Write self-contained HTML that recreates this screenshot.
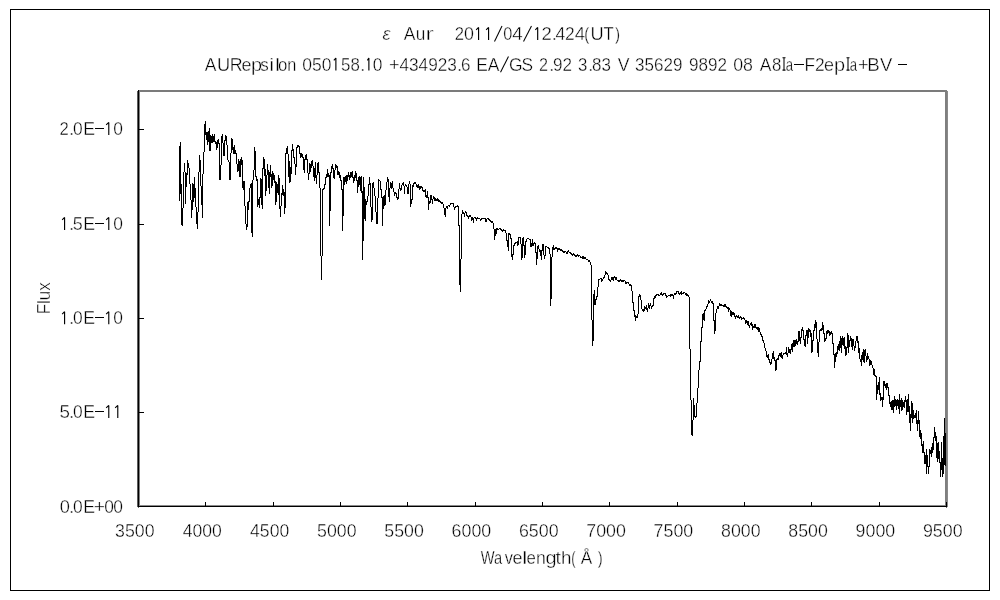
<!DOCTYPE html>
<html><head><meta charset="utf-8"><title>eps Aur spectrum</title>
<style>html,body{margin:0;padding:0;background:#fff;}body{width:1000px;height:600px;overflow:hidden;font-family:"Liberation Sans",sans-serif;}svg{display:block;}text{font-family:"Liberation Sans",sans-serif;}</style>
</head><body>
<svg width="1000" height="600" viewBox="0 0 1000 600">
<rect x="0" y="0" width="1000" height="600" fill="#fff"/>
<g shape-rendering="crispEdges">
<rect x="10.5" y="9.5" width="979" height="581" fill="none" stroke="#000" stroke-width="1"/>
<rect x="138" y="90" width="809" height="2" fill="#7b7b7b"/>
<rect x="945" y="90" width="2" height="416" fill="#7f7f7f"/>
<rect x="947" y="91" width="1" height="416" fill="#8a8a8a"/>
</g>
<path shape-rendering="crispEdges" fill="#000" d="M179 146h1V201h-1zM180 142h1V194h-1zM181 184h1V225h-1zM182 208h1V226h-1zM183 172h1V208h-1zM184 163h1V172h-1zM185 172h1V204h-1zM186 173h1V187h-1zM187 160h1V175h-1zM188 163h1V168h-1zM189 168h1V184h-1zM190 184h1V200h-1zM191 200h1V218h-1zM192 183h1V210h-1zM193 184h1V202h-1zM194 177h1V198h-1zM195 188h1V207h-1zM196 207h1V224h-1zM197 212h1V229h-1zM198 172h1V212h-1zM199 155h1V172h-1zM200 160h1V186h-1zM201 186h1V205h-1zM202 174h1V218h-1zM203 152h1V174h-1zM204 124h1V152h-1zM205 121h1V135h-1zM206 132h1V140h-1zM207 132h1V145h-1zM208 131h1V142h-1zM209 128h1V151h-1zM210 135h1V151h-1zM211 136h1V143h-1zM212 134h1V143h-1zM213 136h1V142h-1zM214 134h1V142h-1zM215 141h1V144h-1zM216 142h1V150h-1zM217 140h1V148h-1zM218 139h1V144h-1zM219 143h1V180h-1zM220 165h1V180h-1zM221 136h1V165h-1zM222 134h1V143h-1zM223 143h1V156h-1zM224 140h1V156h-1zM225 135h1V141h-1zM226 136h1V145h-1zM227 145h1V160h-1zM228 160h1V162h-1zM229 162h1V180h-1zM230 153h1V180h-1zM231 138h1V153h-1zM232 139h1V150h-1zM233 147h1V154h-1zM234 145h1V154h-1zM235 150h1V154h-1zM236 153h1V164h-1zM237 164h1V172h-1zM238 159h1V171h-1zM239 161h1V177h-1zM240 159h1V177h-1zM241 157h1V165h-1zM242 160h1V188h-1zM243 181h1V190h-1zM244 181h1V206h-1zM245 206h1V224h-1zM246 224h1V230h-1zM247 202h1V227h-1zM248 201h1V210h-1zM249 188h1V202h-1zM250 184h1V188h-1zM251 183h1V233h-1zM252 180h1V237h-1zM253 170h1V180h-1zM254 147h1V170h-1zM255 151h1V177h-1zM256 176h1V181h-1zM257 179h1V207h-1zM258 199h1V205h-1zM259 197h1V208h-1zM260 178h1V198h-1zM261 179h1V205h-1zM262 168h1V209h-1zM263 157h1V169h-1zM264 159h1V176h-1zM265 169h1V196h-1zM266 175h1V191h-1zM267 164h1V175h-1zM268 170h1V188h-1zM269 172h1V194h-1zM270 165h1V177h-1zM271 174h1V188h-1zM272 171h1V186h-1zM273 173h1V180h-1zM274 175h1V183h-1zM275 181h1V205h-1zM276 182h1V202h-1zM277 184h1V193h-1zM278 175h1V195h-1zM279 178h1V209h-1zM280 206h1V217h-1zM281 193h1V206h-1zM282 185h1V195h-1zM283 189h1V196h-1zM284 192h1V214h-1zM285 153h1V208h-1zM286 148h1V154h-1zM287 146h1V154h-1zM288 154h1V177h-1zM289 161h1V183h-1zM290 167h1V182h-1zM291 150h1V174h-1zM292 144h1V151h-1zM293 149h1V158h-1zM294 157h1V164h-1zM295 164h1V175h-1zM296 147h1V167h-1zM297 145h1V148h-1zM298 145h1V147h-1zM299 146h1V154h-1zM300 153h1V158h-1zM301 153h1V157h-1zM302 154h1V158h-1zM303 157h1V170h-1zM304 159h1V173h-1zM305 155h1V160h-1zM306 154h1V160h-1zM307 159h1V173h-1zM308 173h1V180h-1zM309 163h1V174h-1zM310 164h1V172h-1zM311 161h1V168h-1zM312 160h1V166h-1zM313 166h1V177h-1zM314 168h1V181h-1zM315 162h1V178h-1zM316 175h1V184h-1zM317 163h1V175h-1zM318 162h1V173h-1zM319 172h1V188h-1zM320 188h1V256h-1zM321 256h1V280h-1zM322 189h1V256h-1zM323 188h1V190h-1zM324 184h1V189h-1zM325 177h1V185h-1zM326 174h1V178h-1zM327 169h1V177h-1zM328 173h1V177h-1zM329 175h1V226h-1zM330 172h1V211h-1zM331 166h1V173h-1zM332 164h1V169h-1zM333 168h1V178h-1zM334 170h1V179h-1zM335 164h1V170h-1zM336 165h1V168h-1zM337 166h1V175h-1zM338 171h1V175h-1zM339 172h1V178h-1zM340 175h1V181h-1zM341 180h1V190h-1zM342 189h1V231h-1zM343 177h1V216h-1zM344 177h1V185h-1zM345 176h1V182h-1zM346 175h1V184h-1zM347 175h1V181h-1zM348 172h1V177h-1zM349 175h1V180h-1zM350 172h1V178h-1zM351 172h1V177h-1zM352 171h1V178h-1zM353 177h1V183h-1zM354 175h1V181h-1zM355 171h1V178h-1zM356 173h1V181h-1zM357 180h1V193h-1zM358 177h1V187h-1zM359 176h1V185h-1zM360 177h1V191h-1zM361 176h1V193h-1zM362 191h1V260h-1zM363 177h1V241h-1zM364 187h1V219h-1zM365 199h1V221h-1zM366 201h1V205h-1zM367 196h1V202h-1zM368 184h1V196h-1zM369 177h1V185h-1zM370 183h1V207h-1zM371 207h1V222h-1zM372 183h1V220h-1zM373 182h1V188h-1zM374 188h1V196h-1zM375 196h1V212h-1zM376 212h1V224h-1zM377 198h1V224h-1zM378 179h1V198h-1zM379 180h1V181h-1zM380 181h1V190h-1zM381 189h1V198h-1zM382 197h1V226h-1zM383 196h1V209h-1zM384 195h1V206h-1zM385 190h1V205h-1zM386 182h1V190h-1zM387 177h1V182h-1zM388 179h1V197h-1zM389 188h1V202h-1zM390 182h1V188h-1zM391 183h1V189h-1zM392 181h1V188h-1zM393 188h1V192h-1zM394 192h1V196h-1zM395 192h1V194h-1zM396 193h1V198h-1zM397 197h1V200h-1zM398 189h1V199h-1zM399 183h1V189h-1zM400 188h1V191h-1zM401 185h1V190h-1zM402 183h1V185h-1zM403 182h1V186h-1zM404 186h1V194h-1zM405 184h1V186h-1zM406 185h1V187h-1zM407 187h1V194h-1zM408 184h1V194h-1zM409 181h1V184h-1zM410 184h1V207h-1zM411 199h1V204h-1zM412 185h1V200h-1zM413 183h1V187h-1zM414 182h1V184h-1zM415 182h1V184h-1zM416 184h1V187h-1zM417 185h1V188h-1zM418 184h1V188h-1zM419 186h1V190h-1zM420 186h1V189h-1zM421 186h1V188h-1zM422 187h1V191h-1zM423 190h1V192h-1zM424 190h1V192h-1zM425 189h1V197h-1zM426 195h1V198h-1zM427 191h1V198h-1zM428 197h1V210h-1zM429 201h1V204h-1zM430 195h1V203h-1zM431 195h1V200h-1zM432 199h1V204h-1zM433 196h1V199h-1zM434 197h1V201h-1zM435 198h1V201h-1zM436 199h1V201h-1zM437 198h1V201h-1zM438 199h1V202h-1zM439 200h1V202h-1zM440 201h1V203h-1zM441 202h1V204h-1zM442 202h1V204h-1zM443 204h1V208h-1zM444 208h1V215h-1zM445 208h1V217h-1zM446 206h1V208h-1zM447 206h1V209h-1zM448 205h1V206h-1zM449 205h1V207h-1zM450 203h1V205h-1zM451 203h1V204h-1zM452 203h1V204h-1zM453 203h1V207h-1zM454 207h1V210h-1zM455 206h1V208h-1zM456 206h1V207h-1zM457 205h1V207h-1zM458 206h1V226h-1zM459 225h1V285h-1zM460 259h1V292h-1zM461 214h1V259h-1zM462 210h1V214h-1zM463 212h1V214h-1zM464 213h1V217h-1zM465 211h1V213h-1zM466 212h1V216h-1zM467 215h1V217h-1zM468 216h1V219h-1zM469 215h1V217h-1zM470 215h1V217h-1zM471 217h1V221h-1zM472 217h1V220h-1zM473 218h1V223h-1zM474 217h1V218h-1zM475 217h1V219h-1zM476 218h1V221h-1zM477 217h1V219h-1zM478 218h1V219h-1zM479 218h1V219h-1zM480 219h1V221h-1zM481 218h1V220h-1zM482 218h1V219h-1zM483 218h1V219h-1zM484 218h1V219h-1zM485 218h1V222h-1zM486 219h1V222h-1zM487 218h1V219h-1zM488 218h1V220h-1zM489 219h1V221h-1zM490 220h1V222h-1zM491 221h1V223h-1zM492 221h1V223h-1zM493 223h1V229h-1zM494 229h1V240h-1zM495 229h1V236h-1zM496 228h1V234h-1zM497 228h1V230h-1zM498 229h1V230h-1zM499 228h1V229h-1zM500 228h1V230h-1zM501 229h1V231h-1zM502 230h1V232h-1zM503 229h1V231h-1zM504 230h1V231h-1zM505 230h1V233h-1zM506 233h1V241h-1zM507 240h1V247h-1zM508 233h1V251h-1zM509 233h1V235h-1zM510 234h1V239h-1zM511 238h1V257h-1zM512 254h1V260h-1zM513 245h1V255h-1zM514 243h1V246h-1zM515 242h1V244h-1zM516 242h1V243h-1zM517 241h1V246h-1zM518 237h1V245h-1zM519 237h1V238h-1zM520 237h1V244h-1zM521 244h1V260h-1zM522 238h1V258h-1zM523 237h1V246h-1zM524 245h1V258h-1zM525 241h1V255h-1zM526 239h1V242h-1zM527 238h1V239h-1zM528 238h1V239h-1zM529 239h1V240h-1zM530 239h1V247h-1zM531 243h1V247h-1zM532 239h1V246h-1zM533 243h1V246h-1zM534 242h1V244h-1zM535 243h1V253h-1zM536 252h1V265h-1zM537 246h1V259h-1zM538 245h1V249h-1zM539 249h1V252h-1zM540 250h1V256h-1zM541 250h1V260h-1zM542 244h1V251h-1zM543 244h1V255h-1zM544 255h1V259h-1zM545 246h1V256h-1zM546 246h1V247h-1zM547 247h1V248h-1zM548 247h1V249h-1zM549 248h1V254h-1zM550 254h1V306h-1zM551 257h1V299h-1zM552 247h1V257h-1zM553 245h1V250h-1zM554 248h1V250h-1zM555 247h1V249h-1zM556 247h1V249h-1zM557 248h1V252h-1zM558 248h1V250h-1zM559 248h1V250h-1zM560 249h1V251h-1zM561 249h1V251h-1zM562 250h1V252h-1zM563 251h1V253h-1zM564 251h1V253h-1zM565 251h1V252h-1zM566 252h1V254h-1zM567 251h1V254h-1zM568 250h1V252h-1zM569 252h1V253h-1zM570 252h1V254h-1zM571 253h1V255h-1zM572 254h1V256h-1zM573 253h1V255h-1zM574 254h1V256h-1zM575 255h1V257h-1zM576 255h1V257h-1zM577 254h1V256h-1zM578 255h1V257h-1zM579 255h1V256h-1zM580 256h1V258h-1zM581 257h1V258h-1zM582 256h1V259h-1zM583 256h1V259h-1zM584 257h1V259h-1zM585 257h1V259h-1zM586 259h1V260h-1zM587 259h1V260h-1zM588 260h1V262h-1zM589 260h1V262h-1zM590 262h1V265h-1zM591 265h1V320h-1zM592 320h1V346h-1zM593 294h1V341h-1zM594 290h1V305h-1zM595 299h1V305h-1zM596 296h1V300h-1zM597 287h1V297h-1zM598 279h1V287h-1zM599 279h1V280h-1zM600 278h1V279h-1zM601 278h1V282h-1zM602 279h1V281h-1zM603 277h1V279h-1zM604 275h1V278h-1zM605 271h1V275h-1zM606 272h1V274h-1zM607 273h1V275h-1zM608 275h1V280h-1zM609 279h1V281h-1zM610 280h1V282h-1zM611 277h1V280h-1zM612 277h1V280h-1zM613 277h1V281h-1zM614 276h1V278h-1zM615 277h1V280h-1zM616 277h1V280h-1zM617 280h1V281h-1zM618 280h1V282h-1zM619 280h1V282h-1zM620 279h1V281h-1zM621 280h1V282h-1zM622 280h1V282h-1zM623 280h1V282h-1zM624 280h1V281h-1zM625 281h1V284h-1zM626 282h1V284h-1zM627 282h1V283h-1zM628 282h1V284h-1zM629 284h1V286h-1zM630 284h1V286h-1zM631 285h1V291h-1zM632 291h1V303h-1zM633 302h1V311h-1zM634 310h1V317h-1zM635 315h1V321h-1zM636 316h1V318h-1zM637 314h1V318h-1zM638 296h1V314h-1zM639 294h1V297h-1zM640 295h1V300h-1zM641 300h1V309h-1zM642 309h1V311h-1zM643 309h1V312h-1zM644 306h1V311h-1zM645 307h1V309h-1zM646 305h1V310h-1zM647 308h1V312h-1zM648 303h1V308h-1zM649 305h1V309h-1zM650 303h1V306h-1zM651 306h1V309h-1zM652 305h1V307h-1zM653 298h1V306h-1zM654 296h1V299h-1zM655 295h1V298h-1zM656 294h1V296h-1zM657 294h1V295h-1zM658 294h1V296h-1zM659 295h1V296h-1zM660 293h1V295h-1zM661 292h1V295h-1zM662 294h1V296h-1zM663 293h1V295h-1zM664 293h1V294h-1zM665 293h1V296h-1zM666 295h1V298h-1zM667 296h1V297h-1zM668 295h1V296h-1zM669 295h1V296h-1zM670 294h1V297h-1zM671 294h1V296h-1zM672 294h1V296h-1zM673 295h1V299h-1zM674 293h1V295h-1zM675 293h1V295h-1zM676 291h1V294h-1zM677 291h1V292h-1zM678 291h1V294h-1zM679 293h1V295h-1zM680 292h1V294h-1zM681 291h1V295h-1zM682 293h1V294h-1zM683 292h1V294h-1zM684 292h1V293h-1zM685 293h1V295h-1zM686 293h1V296h-1zM687 294h1V296h-1zM688 295h1V297h-1zM689 297h1V349h-1zM690 349h1V400h-1zM691 400h1V435h-1zM692 420h1V436h-1zM693 398h1V420h-1zM694 405h1V417h-1zM695 416h1V418h-1zM696 403h1V417h-1zM697 388h1V403h-1zM698 370h1V388h-1zM699 361h1V370h-1zM700 341h1V362h-1zM701 327h1V342h-1zM702 314h1V328h-1zM703 313h1V320h-1zM704 310h1V321h-1zM705 309h1V311h-1zM706 306h1V309h-1zM707 304h1V307h-1zM708 300h1V304h-1zM709 301h1V303h-1zM710 299h1V301h-1zM711 301h1V303h-1zM712 301h1V304h-1zM713 303h1V321h-1zM714 320h1V334h-1zM715 313h1V331h-1zM716 309h1V313h-1zM717 306h1V309h-1zM718 306h1V309h-1zM719 303h1V306h-1zM720 304h1V306h-1zM721 304h1V306h-1zM722 305h1V306h-1zM723 305h1V307h-1zM724 304h1V307h-1zM725 304h1V307h-1zM726 306h1V308h-1zM727 307h1V309h-1zM728 307h1V312h-1zM729 308h1V310h-1zM730 310h1V316h-1zM731 311h1V317h-1zM732 312h1V315h-1zM733 312h1V315h-1zM734 313h1V317h-1zM735 316h1V319h-1zM736 315h1V317h-1zM737 316h1V318h-1zM738 315h1V318h-1zM739 317h1V319h-1zM740 316h1V318h-1zM741 317h1V320h-1zM742 318h1V319h-1zM743 317h1V319h-1zM744 318h1V320h-1zM745 320h1V324h-1zM746 320h1V323h-1zM747 321h1V325h-1zM748 321h1V326h-1zM749 325h1V328h-1zM750 323h1V325h-1zM751 322h1V326h-1zM752 324h1V330h-1zM753 326h1V328h-1zM754 324h1V328h-1zM755 324h1V328h-1zM756 327h1V329h-1zM757 327h1V330h-1zM758 327h1V332h-1zM759 328h1V332h-1zM760 332h1V335h-1zM761 334h1V337h-1zM762 336h1V341h-1zM763 340h1V343h-1zM764 343h1V348h-1zM765 348h1V351h-1zM766 351h1V357h-1zM767 355h1V358h-1zM768 354h1V360h-1zM769 359h1V363h-1zM770 362h1V365h-1zM771 359h1V364h-1zM772 353h1V359h-1zM773 351h1V359h-1zM774 357h1V361h-1zM775 360h1V371h-1zM776 359h1V370h-1zM777 358h1V360h-1zM778 355h1V360h-1zM779 353h1V356h-1zM780 353h1V357h-1zM781 352h1V358h-1zM782 355h1V359h-1zM783 353h1V355h-1zM784 353h1V354h-1zM785 352h1V354h-1zM786 347h1V355h-1zM787 353h1V357h-1zM788 347h1V353h-1zM789 349h1V353h-1zM790 349h1V354h-1zM791 344h1V350h-1zM792 343h1V352h-1zM793 340h1V347h-1zM794 340h1V347h-1zM795 340h1V346h-1zM796 339h1V344h-1zM797 341h1V345h-1zM798 331h1V342h-1zM799 331h1V341h-1zM800 337h1V344h-1zM801 329h1V338h-1zM802 327h1V331h-1zM803 330h1V340h-1zM804 339h1V346h-1zM805 335h1V347h-1zM806 330h1V336h-1zM807 330h1V344h-1zM808 328h1V338h-1zM809 329h1V332h-1zM810 330h1V337h-1zM811 333h1V353h-1zM812 340h1V352h-1zM813 330h1V341h-1zM814 324h1V331h-1zM815 320h1V328h-1zM816 322h1V339h-1zM817 339h1V353h-1zM818 342h1V357h-1zM819 330h1V342h-1zM820 329h1V331h-1zM821 328h1V331h-1zM822 322h1V330h-1zM823 325h1V334h-1zM824 333h1V342h-1zM825 338h1V341h-1zM826 331h1V339h-1zM827 330h1V334h-1zM828 330h1V333h-1zM829 331h1V336h-1zM830 332h1V335h-1zM831 331h1V334h-1zM832 333h1V344h-1zM833 343h1V355h-1zM834 354h1V368h-1zM835 353h1V362h-1zM836 352h1V357h-1zM837 346h1V354h-1zM838 344h1V350h-1zM839 341h1V351h-1zM840 336h1V348h-1zM841 338h1V353h-1zM842 336h1V345h-1zM843 338h1V346h-1zM844 337h1V349h-1zM845 346h1V356h-1zM846 347h1V355h-1zM847 333h1V348h-1zM848 335h1V353h-1zM849 340h1V347h-1zM850 336h1V341h-1zM851 338h1V347h-1zM852 339h1V350h-1zM853 339h1V346h-1zM854 346h1V351h-1zM855 341h1V348h-1zM856 336h1V341h-1zM857 336h1V343h-1zM858 341h1V353h-1zM859 348h1V359h-1zM860 359h1V362h-1zM861 355h1V366h-1zM862 352h1V360h-1zM863 349h1V362h-1zM864 350h1V363h-1zM865 349h1V356h-1zM866 356h1V362h-1zM867 353h1V360h-1zM868 356h1V359h-1zM869 359h1V366h-1zM870 360h1V365h-1zM871 361h1V365h-1zM872 365h1V368h-1zM873 368h1V375h-1zM874 369h1V376h-1zM875 375h1V377h-1zM876 376h1V400h-1zM877 385h1V394h-1zM878 382h1V390h-1zM879 377h1V395h-1zM880 393h1V401h-1zM881 397h1V400h-1zM882 397h1V407h-1zM883 381h1V400h-1zM884 381h1V386h-1zM885 384h1V388h-1zM886 383h1V390h-1zM887 383h1V388h-1zM888 387h1V396h-1zM889 395h1V404h-1zM890 402h1V407h-1zM891 401h1V410h-1zM892 400h1V410h-1zM893 400h1V413h-1zM894 396h1V407h-1zM895 399h1V406h-1zM896 400h1V410h-1zM897 399h1V406h-1zM898 400h1V409h-1zM899 394h1V414h-1zM900 400h1V407h-1zM901 398h1V411h-1zM902 400h1V410h-1zM903 402h1V407h-1zM904 400h1V408h-1zM905 396h1V402h-1zM906 400h1V415h-1zM907 399h1V412h-1zM908 394h1V412h-1zM909 406h1V423h-1zM910 414h1V431h-1zM911 401h1V418h-1zM912 403h1V423h-1zM913 410h1V419h-1zM914 415h1V418h-1zM915 413h1V418h-1zM916 410h1V424h-1zM917 420h1V431h-1zM918 411h1V424h-1zM919 420h1V437h-1zM920 430h1V439h-1zM921 433h1V446h-1zM922 444h1V453h-1zM923 441h1V453h-1zM924 452h1V464h-1zM925 455h1V464h-1zM926 449h1V474h-1zM927 455h1V467h-1zM928 466h1V474h-1zM929 449h1V467h-1zM930 450h1V454h-1zM931 447h1V457h-1zM932 443h1V453h-1zM933 437h1V450h-1zM934 427h1V438h-1zM935 432h1V441h-1zM936 436h1V458h-1zM937 443h1V462h-1zM938 442h1V459h-1zM939 451h1V463h-1zM940 462h1V477h-1zM941 442h1V470h-1zM942 458h1V477h-1zM943 436h1V474h-1zM944 418h1V465h-1zM945 433h1V466h-1z"/>
<g shape-rendering="crispEdges">
<rect x="137" y="91" width="1" height="416" fill="#5c5c5c"/>
<rect x="138" y="90" width="1" height="417" fill="#000"/>
<rect x="138" y="507" width="1" height="1" fill="#6a6a6a"/>
<rect x="946" y="507" width="1" height="1" fill="#6a6a6a"/>
<rect x="139" y="92" width="1" height="413" fill="#7f7f7f"/>
<rect x="139" y="505" width="806" height="1" fill="#8a8a8a"/>
<rect x="138" y="506" width="809" height="1" fill="#000"/>
<rect x="139" y="129" width="5" height="1" fill="#000"/>
<rect x="139" y="224" width="5" height="1" fill="#000"/>
<rect x="139" y="318" width="5" height="1" fill="#000"/>
<rect x="139" y="412" width="5" height="1" fill="#000"/>
<rect x="138" y="502" width="1" height="5" fill="#000"/>
<rect x="205" y="502" width="1" height="5" fill="#000"/>
<rect x="273" y="502" width="1" height="5" fill="#000"/>
<rect x="340" y="502" width="1" height="5" fill="#000"/>
<rect x="407" y="502" width="1" height="5" fill="#000"/>
<rect x="475" y="502" width="1" height="5" fill="#000"/>
<rect x="542" y="502" width="1" height="5" fill="#000"/>
<rect x="609" y="502" width="1" height="5" fill="#000"/>
<rect x="677" y="502" width="1" height="5" fill="#000"/>
<rect x="744" y="502" width="1" height="5" fill="#000"/>
<rect x="811" y="502" width="1" height="5" fill="#000"/>
<rect x="879" y="502" width="1" height="5" fill="#000"/>
<rect x="946" y="502" width="1" height="5" fill="#000"/>
</g>
<g font-size="18.5" fill="#000" stroke="#fff" stroke-width="0.38" style="opacity:0.999">
<text transform="translate(382.50 40.00) scale(1.0000 1)" font-style="italic">ε</text>
<text transform="translate(403.65 40.00) scale(0.9462 1)">A</text>
<text transform="translate(415.72 40.00) scale(0.9333 1)">u</text>
<text transform="translate(425.50 40.00) scale(1.3333 1)">r</text>
<text transform="translate(454.79 40.00) scale(0.9000 1)">2</text>
<text transform="translate(463.96 40.00) scale(0.9647 1)">0</text>
<polyline points="476.15,29.80 478.58,27.40 478.58,40.00" fill="none" stroke="#000" stroke-width="1.15" stroke-linejoin="bevel"/>
<polyline points="486.15,29.80 488.58,27.40 488.58,40.00" fill="none" stroke="#000" stroke-width="1.15" stroke-linejoin="bevel"/>
<line x1="494.50" y1="41.60" x2="502.00" y2="26.00" stroke="#000" stroke-width="1.05" stroke-linecap="butt"/>
<text transform="translate(503.23 40.00) scale(0.8824 1)">0</text>
<text transform="translate(512.37 40.00) scale(1.0141 1)">4</text>
<line x1="523.50" y1="41.60" x2="531.50" y2="26.00" stroke="#000" stroke-width="1.05" stroke-linecap="butt"/>
<polyline points="535.35,29.80 537.68,27.40 537.68,40.00" fill="none" stroke="#000" stroke-width="1.15" stroke-linejoin="bevel"/>
<text transform="translate(541.38 40.00) scale(1.0000 1)">2</text>
<text transform="translate(551.45 40.00) scale(1.0909 1)">.</text>
<text transform="translate(555.40 40.00) scale(0.9577 1)">4</text>
<text transform="translate(564.95 40.00) scale(0.9375 1)">2</text>
<text transform="translate(574.87 40.00) scale(1.0141 1)">4</text>
<text transform="translate(584.37 40.00) scale(0.8235 1)">(</text>
<text transform="translate(590.40 40.00) scale(0.9877 1)">U</text>
<text transform="translate(603.44 40.00) scale(0.9000 1)">T</text>
<text transform="translate(614.99 40.00) scale(0.8235 1)">)</text>
<text transform="translate(204.65 70.60) scale(0.9462 1)">A</text>
<text transform="translate(216.90 70.60) scale(0.9877 1)">U</text>
<text transform="translate(229.81 70.60) scale(0.9639 1)">R</text>
<text transform="translate(241.53 70.60) scale(0.9697 1)">e</text>
<text transform="translate(251.02 70.60) scale(1.0794 1)">p</text>
<text transform="translate(260.31 70.60) scale(0.9180 1)">s</text>
<text transform="translate(269.35 70.60) scale(1.2000 1)">i</text>
<text transform="translate(274.93 70.60) scale(1.2444 1)">l</text>
<text transform="translate(278.09 70.60) scale(0.9091 1)">o</text>
<text transform="translate(287.18 70.60) scale(0.8814 1)">n</text>
<text transform="translate(302.17 70.60) scale(0.9483 1)">050</text>
<polyline points="333.85,60.40 335.88,58.00 335.88,70.60" fill="none" stroke="#000" stroke-width="1.15" stroke-linejoin="bevel"/>
<text transform="translate(341.09 70.60) scale(0.9128 1)">58</text>
<text transform="translate(359.95 70.60) scale(1.0909 1)">.</text>
<polyline points="367.35,60.40 368.88,58.00 368.88,70.60" fill="none" stroke="#000" stroke-width="1.15" stroke-linejoin="bevel"/>
<text transform="translate(372.68 70.60) scale(0.9412 1)">0</text>
<text transform="translate(388.89 70.60) scale(0.9855 1)">+</text>
<text transform="translate(399.42 70.60) scale(0.9314 1)">434923</text>
<text transform="translate(456.89 70.60) scale(1.0182 1)">.</text>
<text transform="translate(460.96 70.60) scale(0.9231 1)">6</text>
<text transform="translate(476.36 70.60) scale(0.9351 1)">E</text>
<text transform="translate(487.65 70.60) scale(0.9462 1)">A</text>
<line x1="500.50" y1="72.20" x2="508.50" y2="56.60" stroke="#000" stroke-width="1.05" stroke-linecap="butt"/>
<text transform="translate(508.94 70.60) scale(0.9462 1)">G</text>
<text transform="translate(521.44 70.60) scale(0.9383 1)">S</text>
<text transform="translate(539.02 70.60) scale(0.8750 1)">2</text>
<text transform="translate(548.95 70.60) scale(1.0909 1)">.</text>
<text transform="translate(552.96 70.60) scale(0.9252 1)">92</text>
<text transform="translate(578.09 70.60) scale(0.9091 1)">3</text>
<text transform="translate(587.95 70.60) scale(1.0909 1)">.</text>
<text transform="translate(592.08 70.60) scale(0.9189 1)">83</text>
<text transform="translate(617.64 70.60) scale(0.9565 1)">V</text>
<text transform="translate(635.08 70.60) scale(0.9215 1)">35629</text>
<text transform="translate(688.96 70.60) scale(0.9260 1)">9892</text>
<text transform="translate(733.16 70.60) scale(0.9600 1)">08</text>
<text transform="translate(759.65 70.60) scale(0.9462 1)">A</text>
<text transform="translate(772.09 70.60) scale(0.9091 1)">8</text>
<path d="M782.50 57.70H785.50M782.50 70.10H785.50M784.00 57.70V70.10" fill="none" stroke="#000" stroke-width="1.05"/>
<text transform="translate(785.79 70.60) scale(0.7123 1)">a</text>
<rect x="794" y="64" width="10" height="1" fill="#000" stroke="none" shape-rendering="crispEdges"/>
<text transform="translate(804.38 70.60) scale(0.9275 1)">F</text>
<text transform="translate(814.95 70.60) scale(0.9375 1)">2</text>
<text transform="translate(824.03 70.60) scale(0.9697 1)">e</text>
<text transform="translate(834.02 70.60) scale(1.0794 1)">p</text>
<path d="M846.50 57.70H849.50M846.50 70.10H849.50M848.00 57.70V70.10" fill="none" stroke="#000" stroke-width="1.05"/>
<text transform="translate(849.79 70.60) scale(0.7123 1)">a</text>
<text transform="translate(857.89 70.60) scale(0.9855 1)">+</text>
<text transform="translate(867.23 70.60) scale(1.0133 1)">B</text>
<text transform="translate(880.12 70.60) scale(1.0000 1)">V</text>
<rect x="898" y="64" width="9" height="1" fill="#000" stroke="none" shape-rendering="crispEdges"/>
<text transform="translate(59.59 135.00) scale(0.9000 1)">2</text>
<text transform="translate(68.89 135.00) scale(1.0182 1)">.</text>
<text transform="translate(72.98 135.00) scale(0.9412 1)">0</text>
<text transform="translate(83.33 135.00) scale(0.9558 1)">E</text>
<rect x="95" y="128" width="9" height="1" fill="#000" stroke="none" shape-rendering="crispEdges"/>
<polyline points="106.15,124.80 108.78,122.40 108.78,135.00" fill="none" stroke="#000" stroke-width="1.15" stroke-linejoin="bevel"/>
<text transform="translate(113.18 135.00) scale(0.9412 1)">0</text>
<polyline points="62.15,219.80 64.58,217.40 64.58,230.00" fill="none" stroke="#000" stroke-width="1.15" stroke-linejoin="bevel"/>
<text transform="translate(68.89 230.00) scale(1.0182 1)">.</text>
<text transform="translate(72.83 230.00) scale(0.9697 1)">5</text>
<text transform="translate(83.33 230.00) scale(0.9558 1)">E</text>
<rect x="95" y="223" width="9" height="1" fill="#000" stroke="none" shape-rendering="crispEdges"/>
<polyline points="106.15,219.80 108.78,217.40 108.78,230.00" fill="none" stroke="#000" stroke-width="1.15" stroke-linejoin="bevel"/>
<text transform="translate(113.18 230.00) scale(0.9412 1)">0</text>
<polyline points="62.15,314.10 64.58,311.70 64.58,324.30" fill="none" stroke="#000" stroke-width="1.15" stroke-linejoin="bevel"/>
<text transform="translate(68.89 324.30) scale(1.0182 1)">.</text>
<text transform="translate(72.98 324.30) scale(0.9412 1)">0</text>
<text transform="translate(83.33 324.30) scale(0.9558 1)">E</text>
<rect x="95" y="317" width="9" height="1" fill="#000" stroke="none" shape-rendering="crispEdges"/>
<polyline points="106.15,314.10 108.78,311.70 108.78,324.30" fill="none" stroke="#000" stroke-width="1.15" stroke-linejoin="bevel"/>
<text transform="translate(113.18 324.30) scale(0.9412 1)">0</text>
<text transform="translate(59.58 418.00) scale(1.0182 1)">5</text>
<text transform="translate(68.89 418.00) scale(1.0182 1)">.</text>
<text transform="translate(72.98 418.00) scale(0.9412 1)">0</text>
<text transform="translate(83.33 418.00) scale(0.9558 1)">E</text>
<rect x="95" y="411" width="9" height="1" fill="#000" stroke="none" shape-rendering="crispEdges"/>
<polyline points="106.15,407.80 108.78,405.40 108.78,418.00" fill="none" stroke="#000" stroke-width="1.15" stroke-linejoin="bevel"/>
<polyline points="115.15,407.80 117.78,405.40 117.78,418.00" fill="none" stroke="#000" stroke-width="1.15" stroke-linejoin="bevel"/>
<text transform="translate(59.74 513.00) scale(0.9882 1)">0</text>
<text transform="translate(68.89 513.00) scale(1.0182 1)">.</text>
<text transform="translate(72.98 513.00) scale(0.9412 1)">0</text>
<text transform="translate(83.33 513.00) scale(0.9558 1)">E</text>
<text transform="translate(93.83 513.00) scale(1.0435 1)">+</text>
<text transform="translate(104.18 513.00) scale(0.9412 1)">0</text>
<text transform="translate(113.18 513.00) scale(0.9412 1)">0</text>
<text transform="translate(480.70 563.60) scale(0.7925 1)">Wa</text>
<text transform="translate(504.67 563.60) scale(0.8824 1)">v</text>
<text transform="translate(512.53 563.60) scale(0.9697 1)">e</text>
<text transform="translate(522.00 563.60) scale(1.3333 1)">l</text>
<text transform="translate(526.59 563.60) scale(0.9091 1)">e</text>
<text transform="translate(536.08 563.60) scale(0.9492 1)">n</text>
<text transform="translate(545.42 563.60) scale(1.0794 1)">g</text>
<text transform="translate(555.47 563.60) scale(1.0588 1)">t</text>
<text transform="translate(560.97 563.60) scale(1.0169 1)">h</text>
<text transform="translate(571.33 563.60) scale(0.7059 1)">(</text>
<text transform="translate(580.65 563.60) scale(0.9290 1)">Å</text>
<text transform="translate(597.80 563.60) scale(0.8000 1)">)</text>
<text transform="translate(115.04 536.80) scale(0.9605 1)">3500</text>
<text transform="translate(182.74 536.80) scale(0.9514 1)">4000</text>
<text transform="translate(250.07 536.80) scale(0.9514 1)">4500</text>
<text transform="translate(317.04 536.80) scale(0.9605 1)">5000</text>
<text transform="translate(384.37 536.80) scale(0.9605 1)">5500</text>
<text transform="translate(451.58 536.80) scale(0.9636 1)">6000</text>
<text transform="translate(518.92 536.80) scale(0.9636 1)">6500</text>
<text transform="translate(586.25 536.80) scale(0.9636 1)">7000</text>
<text transform="translate(653.58 536.80) scale(0.9636 1)">7500</text>
<text transform="translate(721.04 536.80) scale(0.9605 1)">8000</text>
<text transform="translate(788.37 536.80) scale(0.9605 1)">8500</text>
<text transform="translate(855.58 536.80) scale(0.9636 1)">9000</text>
<text transform="translate(922.92 536.80) scale(0.9636 1)">9500</text>
</g>
<g font-size="18.5" fill="#000" stroke="#fff" stroke-width="0.38" style="filter:grayscale(1)"><text transform="translate(49.8 314.31) rotate(-90) scale(0.9200 1)">Flux</text></g>
</svg></body></html>
